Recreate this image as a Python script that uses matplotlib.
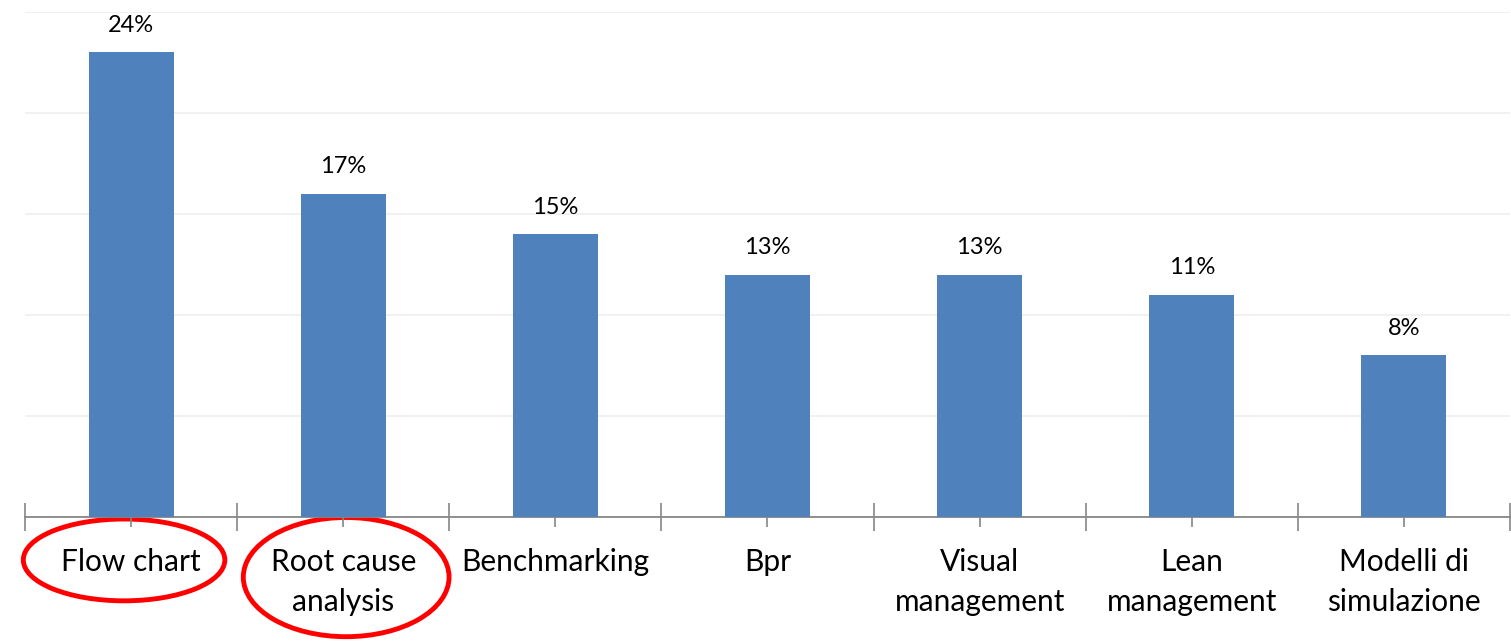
import matplotlib.pyplot as plt
import matplotlib.transforms as mtransforms
from matplotlib.patches import Ellipse

# Data (counts, shown as rounded percentages)
categories = ["Flow chart", "Root cause\nanalysis", "Benchmarking", "Bpr",
              "Visual\nmanagement", "Lean\nmanagement", "Modelli di\nsimulazione"]
counts = [23, 16, 14, 12, 12, 11, 8]
pct_labels = ["24%", "17%", "15%", "13%", "13%", "11%", "8%"]
highlighted = [0, 1]

BAR_COLOR = "#4f81bd"
AXIS_COLOR = "#868686"
GRID_COLOR = "#efefef"

plt.rcParams['font.family'] = ['Lato', 'DejaVu Sans']

fig = plt.figure(figsize=(15.11, 6.43), dpi=100)
ax = fig.add_axes([25 / 1511, 126 / 643, 1485 / 1511, 505 / 643])

x = list(range(len(categories)))
bars = ax.bar(x, counts, width=0.4, color=BAR_COLOR, zorder=3)

for rect, lab in zip(bars, pct_labels):
    ax.annotate(lab, (rect.get_x() + rect.get_width() / 2, rect.get_height()),
                xytext=(0, 19.5), textcoords="offset points",
                ha="center", va="center", fontsize=17, color="black")

ax.set_xlim(-0.5, len(categories) - 0.5)
ax.set_ylim(0, 25)
ax.set_yticks(range(0, 26, 5))
ax.yaxis.grid(True, color=GRID_COLOR, linewidth=1.2, zorder=0)
ax.tick_params(axis="y", left=False, labelleft=False)

for side in ["left", "right", "top"]:
    ax.spines[side].set_visible(False)
ax.spines["bottom"].set_color(AXIS_COLOR)
ax.spines["bottom"].set_linewidth(1.3)

# category labels at centres, tick marks at boundaries and centres
ax.set_xticks(x)
ax.set_xticklabels(categories, fontsize=21.5, linespacing=1.55)
ax.set_xticks([i - 0.5 for i in range(len(categories) + 1)], minor=True)
ax.tick_params(axis="x", which="major", direction="inout", length=14,
               color=AXIS_COLOR, width=1.2, pad=15)
ax.tick_params(axis="x", which="minor", direction="inout", length=20,
               color=AXIS_COLOR, width=1.2)

# red ellipses around highlighted labels
trans = mtransforms.blended_transform_factory(ax.transData, ax.transAxes)
ell_specs = {0: (-0.033, -0.085, 0.95, 0.162), 1: (0.014, -0.119, 0.97, 0.236)}
for idx in highlighted:
    dx, cy, w, h = ell_specs[idx]
    e = Ellipse((idx + dx, cy), w, h, transform=trans, fill=False,
                edgecolor="#ff0000", linewidth=3.5, clip_on=False)
    ax.add_patch(e)

fig.savefig("out.png", dpi=100)
